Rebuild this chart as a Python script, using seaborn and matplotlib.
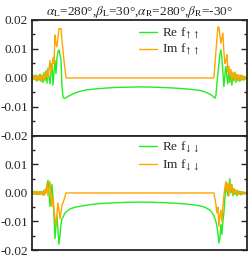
import matplotlib
matplotlib.use("Agg")
import matplotlib.pyplot as plt
import numpy as np
import pandas as pd
import seaborn as sns
from matplotlib.ticker import MultipleLocator

# position along the junction (arbitrary units), values in units of 1e-3
up_re_x = [32, 33, 34, 35, 36, 37, 38, 39, 40, 41, 42, 43, 44, 45, 46, 47, 48, 49, 50, 51,
           52, 53, 54, 55, 56, 57, 58, 59, 60, 61, 62, 63, 64, 65, 66, 70, 75, 80, 87, 95,
           105, 115, 125, 139.5, 150, 160, 170, 180, 190, 200, 205, 210, 213, 215, 216, 217,
           218, 219, 220, 221, 222, 223, 224, 225, 226, 227, 228, 229, 230, 231, 232, 233,
           234, 235, 236, 237, 238, 239, 240, 241, 242, 243, 244, 245, 246, 247]
up_re_y = [0.3, -0.6, 0.9, -0.4, 1.0, -1.1, 0.6, -0.8, 1.3, -1.2, 0.9, -1.6, 1.8, -0.9, 2.5,
           -1.8, 3.4, 0.0, -2.0, 2.0, 5.0, -2.5, 2.0, 6.0, 1.5, 7.0, 9.0, 9.7, 8.0, 6.3, -3.0,
           -6.5, -7.0, -7.0, -6.8, -6.0, -5.2, -4.6, -4.1, -3.8, -3.5, -3.3, -3.2, -3.1,
           -3.15, -3.25, -3.4, -3.6, -3.9, -4.3, -4.8, -5.6, -6.3, -7.0, -6.0, -2.0, 1.7,
           5.0, 8.0, 9.7, 7.0, 2.0, -3.0, 1.0, 4.0, 0.5, -2.0, 3.0, -1.5, 2.0, -2.5, 1.5,
           -1.0, 2.0, -1.5, 1.2, -1.0, 0.8, -1.2, 1.0, -0.7, 0.6, -0.8, 0.5, -0.3, 0.2]

up_im_x = [32, 33, 34, 35, 36, 37, 38, 39, 40, 41, 42, 43, 44, 45, 46, 47, 48, 49, 50, 51,
           52, 53, 54, 55, 56, 57, 58, 59, 60, 61, 62, 64, 66, 139.5, 214, 216, 218, 219,
           221, 223, 224, 225, 226, 227, 228, 229, 230, 231, 232, 233, 234, 235, 236, 237,
           238, 239, 240, 241, 242, 243, 244, 245, 246, 247]
up_im_y = [0.0, 0.8, -0.5, 0.6, -0.9, 0.7, -0.4, 1.0, -0.8, 1.1, -1.0, 0.8, -0.5, 1.5, 0.2,
           2.5, 0.0, 3.0, 6.0, 2.0, 3.0, 7.0, 5.0, 14.8, 12.0, 10.7, 14.0, 17.0, 17.0, 17.0,
           13.0, 6.0, 0.0, 0.0, 0.0, 9.0, 17.6, 17.5, 12.0, 15.5, 9.0, 5.0, 6.0, 8.0, 2.0,
           4.0, 0.5, 3.0, -1.0, 2.0, 0.0, 1.5, -1.0, 1.2, -0.5, 1.0, -0.8, 0.7, -0.6, 0.8,
           -0.4, 0.4, -0.2, 0.0]

dn_re_x = [32, 33, 34, 35, 36, 37, 38, 39, 40, 41, 42, 43, 44, 45, 46, 47, 48, 49, 50, 51,
           52, 53, 54, 55, 56, 57, 58, 59, 60, 61, 62, 63, 65, 70, 75, 83, 90, 100, 112, 125,
           139.5, 150, 165, 180, 190, 200, 205, 210, 212, 214, 216, 217, 218, 219, 220, 221,
           222, 223, 224, 225, 226, 227, 228, 229, 230, 231, 232, 233, 234, 235, 236, 237,
           238, 239, 240, 241, 242, 243, 244, 245, 246, 247]
dn_re_y = [0.2, -0.5, 0.6, -0.3, 0.5, -0.6, 0.4, -0.5, 0.6, -0.4, 0.5, -0.8, 1.0, -0.5, 1.5,
           2.0, 4.5, 0.0, -4.7, -1.0, 3.0, -2.0, -8.0, -16.0, -11.0, -8.0, -13.0, -18.0,
           -15.0, -11.0, -9.0, -8.5, -7.0, -5.6, -5.0, -4.5, -4.1, -3.7, -3.5, -3.3, -3.2,
           -3.25, -3.4, -3.7, -4.0, -4.5, -5.0, -6.0, -6.8, -8.0, -10.0, -11.7, -14.0, -17.5,
           -16.0, -11.0, -14.5, -10.0, -7.0, -2.0, 1.4, 3.5, -1.0, 3.0, 5.0, 0.0, 3.0, -1.0,
           1.5, -0.5, 1.0, -1.0, 0.8, -0.5, 0.6, -0.7, 0.4, -0.3, 0.4, -0.2, 0.2, 0.0]

dn_im_x = [32, 33, 34, 35, 36, 37, 38, 39, 40, 41, 42, 43, 44, 45, 46, 47, 48, 49, 50, 51,
           52, 53, 54, 55, 56, 57, 58, 59, 60, 61, 62, 63, 64, 66, 139.5, 214, 216, 217, 218,
           219, 220, 221, 222, 223, 224, 225, 226, 227, 228, 229, 230, 231, 232, 233, 234,
           235, 236, 237, 238, 239, 240, 241, 242, 243, 244, 245, 246, 247]
dn_im_y = [0.0, 0.4, -0.3, 0.5, -0.4, 0.6, -0.5, 0.3, -0.6, 0.5, -0.4, 0.6, -0.8, 1.0, 0.0,
           3.4, -1.0, 2.0, 4.0, -1.0, -4.7, -1.0, -6.0, -9.0, -11.7, -7.0, -3.5, -6.0, -9.0,
           -7.0, -4.0, -3.5, -2.5, 0.0, 0.0, 0.0, -4.0, -7.0, -5.0, -11.7, -8.0, -6.0, -10.0,
           -5.0, -1.0, 2.0, 4.0, 0.5, 3.0, -1.0, 4.0, 1.0, 2.5, -0.5, 1.5, 0.0, 1.0, -0.3,
           0.6, -0.5, 0.4, -0.3, 0.5, -0.2, 0.2, -0.1, 0.1, 0.0]

title = (r"$\alpha_{\rm L}$=280°,$\beta_{\rm L}$=30°,"
         r"$\alpha_{\rm R}$=280°,$\beta_{\rm R}$=-30°")
labels_up = [r"Re f$_{\uparrow\uparrow}$", r"Im f$_{\uparrow\uparrow}$"]
labels_dn = [r"Re f$_{\downarrow\downarrow}$", r"Im f$_{\downarrow\downarrow}$"]
green = "#22ee22"
orange = "#ffa500"

sns.set_style("ticks")
plt.rcParams["font.family"] = ["Liberation Serif", "DejaVu Serif"]
plt.rcParams["mathtext.fontset"] = "stix"

fig = plt.figure(figsize=(2.49, 2.56), dpi=100)
ax1 = fig.add_axes([0.1285, 0.469, 0.863, 0.453])
ax2 = fig.add_axes([0.1285, 0.0234, 0.863, 0.4456])


def panel(ax, rx, ry, ix, iy, labels):
    re = pd.DataFrame({"x": rx, "y": np.array(ry) * 1e-3})
    im = pd.DataFrame({"x": ix, "y": np.array(iy) * 1e-3})
    sns.lineplot(data=re, x="x", y="y", ax=ax, color=green, lw=1.0,
                 estimator=None, label=labels[0])
    sns.lineplot(data=im, x="x", y="y", ax=ax, color=orange, lw=1.0,
                 estimator=None, label=labels[1])
    ax.set_xlim(32, 247)
    ax.set_ylim(-0.02, 0.02)
    ax.set_xlabel("")
    ax.set_ylabel("")
    ax.set_xticks([])
    ax.yaxis.set_major_locator(MultipleLocator(0.01))
    ax.yaxis.set_minor_locator(MultipleLocator(0.005))
    ax.tick_params(axis="y", which="both", direction="in", right=True,
                   labelsize=9.5, pad=3)
    ax.tick_params(axis="y", which="major", length=4, width=1)
    ax.tick_params(axis="y", which="minor", length=2, width=1)
    for s in ax.spines.values():
        s.set_linewidth(1.3)
    ax.set_yticks([0.02, 0.01, 0.0, -0.01, -0.02])
    ax.set_yticklabels(["0.02", "0.01", "0.00", "-0.01", "-0.02"])


panel(ax1, up_re_x, up_re_y, up_im_x, up_im_y, labels_up)
panel(ax2, dn_re_x, dn_re_y, dn_im_x, dn_im_y, labels_dn)
ax2.set_yticks([0.01, 0.0, -0.01, -0.02])
ax2.set_yticklabels(["0.01", "0.00", "-0.01", "-0.02"])

ax1.legend(loc="upper left", bbox_to_anchor=(0.445, 1.05), frameon=False,
           fontsize=9.5, handlelength=1.3, handletextpad=0.4, labelspacing=0.0)
ax2.legend(loc="upper left", bbox_to_anchor=(0.445, 1.07), frameon=False,
           fontsize=9.5, handlelength=1.3, handletextpad=0.4, labelspacing=0.15)
ax1.set_title(title, fontsize=9.5, pad=3)

fig.savefig("out.png", dpi=100)
